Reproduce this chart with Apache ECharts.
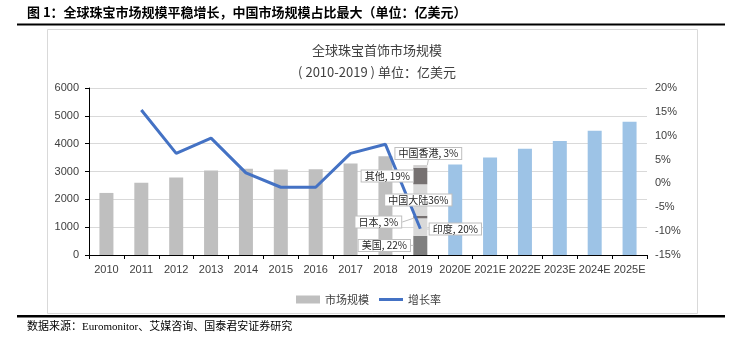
<!DOCTYPE html>
<html><head><meta charset="utf-8">
<script src="https://cdn.jsdelivr.net/npm/echarts@6/dist/echarts.min.js"></script>
<style>html,body{margin:0;padding:0;background:#fff}#c{width:737px;height:342px}</style>
</head><body><div id="c"></div>
<script>
const categories = ['2010','2011','2012','2013','2014','2015','2016','2017','2018','2019','2020E','2021E','2022E','2023E','2024E','2025E'];
const marketSize = [2230, 2600, 2780, 3040, 3100, 3070, 3080, 3290, 3550, 3230, 3250, 3500, 3820, 4100, 4460, 4790];
const growthRate = [null, 15.4, 6.3, 9.5, 2.2, -0.8, -0.8, 6.3, 8.2, -9.5, null, null, null, null, null, null];
const regions2019 = ['美国', '印度', '日本', '中国大陆', '其他', '中国香港'];
const shares2019 = [22, 20, 3, 36, 19, 3];
const leftTicks = [0, 1000, 2000, 3000, 4000, 5000, 6000];
const rightTicks = ['-15%', '-10%', '-5%', '0%', '5%', '10%', '15%', '20%'];

const idx2019 = categories.indexOf('2019');
const shareSum = shares2019.reduce((a, b) => a + b, 0);
const segColors = ['#7f7f7f', '#d9d9d9', '#767171', '#d9d9d9', '#767171', '#d0cece'];
const labelShift = [[-36, 0], [35, 2], [-42, 5], [-2, 0], [-33, 0], [8, -13]];
const labelFmt = ['美国, 22%', '印度, 20%', '日本, 3%', '中国大陆36%', '其他, 19%', '中国香港, 3%'];

const mainData = marketSize.map((v, i) => {
  if (i === idx2019) return null;
  if (i > idx2019) return { value: v, itemStyle: { color: '#9dc3e6' } };
  return v;
});
const segValues = k => categories.map((c, i) => i === idx2019 ? marketSize[idx2019] * shares2019[k] / shareSum : null);

const segSeries = regions2019.map((name, k) => ({
  name: name, type: 'bar', stack: 'total', barWidth: 14,
  data: segValues(k), itemStyle: { color: segColors[k] }, z: 2
}));
const labelSeries = regions2019.map((name, k) => ({
  name: name + '-label', type: 'bar', stack: 'labels', barWidth: 14, xAxisIndex: 1,
  data: segValues(k), itemStyle: { color: 'rgba(0,0,0,0)' }, silent: true,
  label: {
    show: true, position: 'inside', formatter: labelFmt[k],
    fontSize: 10, color: '#262626', fontFamily: 'Noto Sans CJK SC, sans-serif',
    backgroundColor: '#fff', borderColor: '#bfbfbf', borderWidth: 1, padding: [1, 3, 0, 3]
  },
  labelLayout: { dx: labelShift[k][0], dy: labelShift[k][1] },
  labelLine: { show: true, lineStyle: { color: '#bfbfbf', width: 1 } },
  z: 6
}));

const chart = echarts.init(document.getElementById('c'), null, { renderer: 'canvas' });
const axisFont = 'Liberation Sans, Arial, sans-serif';
chart.setOption({
  animation: false,
  title: {
    text: '全球珠宝首饰市场规模',
    subtext: '( 2010-2019 ) 单位：亿美元',
    left: 372, top: 39, textAlign: 'center', itemGap: 9,
    textStyle: { fontSize: 13, fontWeight: 'normal', color: '#404040', fontFamily: 'Noto Sans CJK SC, sans-serif' },
    subtextStyle: { fontSize: 13, color: '#404040', fontFamily: 'Noto Sans CJK SC, sans-serif' }
  },
  legend: {
    data: [
      { name: '市场规模', icon: 'rect' },
      { name: '增长率', icon: 'path://M0,0L24,0L24,3L0,3Z' }
    ],
    left: 'center', top: 289, itemGap: 10,
    itemWidth: 24, itemHeight: 8,
    textStyle: { fontSize: 11, color: '#404040', fontFamily: 'Noto Sans CJK SC, sans-serif' }
  },
  grid: { left: 89, right: 90, top: 88, bottom: 87 },
  xAxis: [{
    type: 'category', data: categories,
    axisLine: { lineStyle: { color: '#000', width: 1 } },
    axisTick: { show: true, alignWithLabel: false, length: 4, lineStyle: { color: '#000' } },
    axisLabel: { interval: 0, fontSize: 11, color: '#404040', fontFamily: axisFont, margin: 9 }
  }, {
    type: 'category', data: categories, show: false
  }],
  yAxis: [{
    type: 'value', min: leftTicks[0], max: leftTicks[leftTicks.length - 1], interval: 1000,
    axisLine: { show: true, lineStyle: { color: '#000' } },
    axisTick: { show: true, length: 4, lineStyle: { color: '#000' } },
    axisLabel: { fontSize: 11, color: '#404040', fontFamily: axisFont, margin: 10, formatter: v => String(v) },
    splitLine: { lineStyle: { color: '#d9d9d9', width: 1 } }
  }, {
    type: 'value', min: -15, max: 20, interval: 5, position: 'right',
    axisLine: { show: false }, axisTick: { show: false },
    axisLabel: { fontSize: 11, color: '#404040', fontFamily: axisFont, margin: 8,
      formatter: v => rightTicks[Math.round((v + 15) / 5)] },
    splitLine: { show: false }
  }],
  series: [{
    name: '市场规模', type: 'bar', stack: 'total', barWidth: 14,
    data: mainData, itemStyle: { color: '#bfbfbf' }, z: 2
  }].concat(segSeries).concat([{
    name: '增长率', type: 'line', yAxisIndex: 1, data: growthRate,
    showSymbol: false, symbol: 'none', connectNulls: false,
    lineStyle: { color: '#4472c4', width: 3 }, itemStyle: { color: '#4472c4' }, z: 4
  }]).concat(labelSeries),
  graphic: [
    { type: 'text', left: 27, top: 6, style: { text: '图 1：全球珠宝市场规模平稳增长，中国市场规模占比最大（单位：亿美元）', font: 'bold 13px "Noto Sans CJK SC", serif', fill: '#000' } },
    { type: 'rect', shape: { x: 17, y: 23.5, width: 708, height: 2 }, style: { fill: '#000' } },
    { type: 'rect', shape: { x: 47.5, y: 29.5, width: 650, height: 284 }, style: { fill: 'none', stroke: '#d9d9d9', lineWidth: 1 }, z: -1 },
    { type: 'rect', shape: { x: 17, y: 315, width: 708, height: 2.5 }, style: { fill: '#000' } },
    { type: 'text', left: 27, top: 322, style: { text: '数据来源：Euromonitor、艾媒咨询、国泰君安证券研究', font: '11px "Liberation Serif", "Noto Sans CJK SC", serif', fill: '#000' } }
  ]
});
</script></body></html>
